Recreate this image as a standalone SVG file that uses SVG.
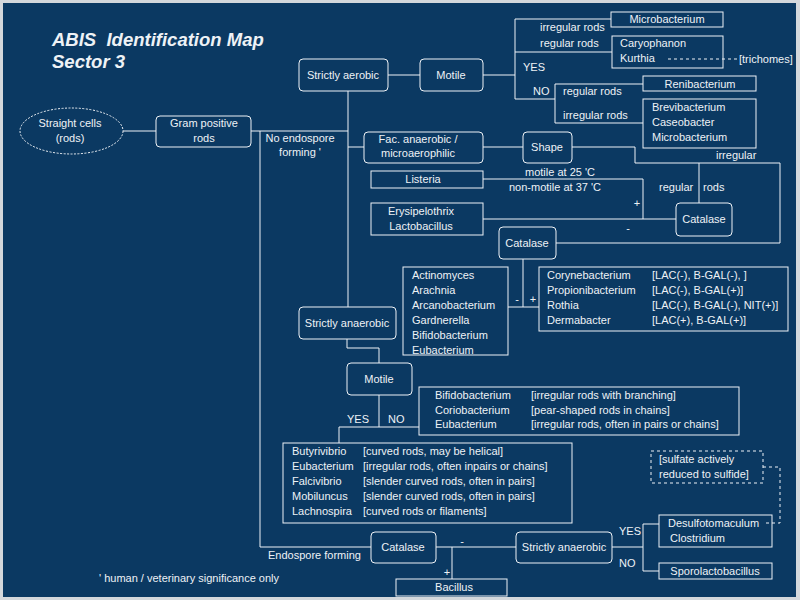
<svg xmlns="http://www.w3.org/2000/svg" width="800" height="600" viewBox="0 0 800 600">
<style>
.bg{fill:#0b3962}
.rb{fill:none;stroke:#eef2f6;stroke-width:1}
.sb{fill:none;stroke:#eef2f6;stroke-width:1}
.ln{fill:none;stroke:#eef2f6;stroke-width:1}
.ds{fill:none;stroke:#eef2f6;stroke-width:1;stroke-dasharray:3,3}
text{font-family:"Liberation Sans",Arial,sans-serif;font-size:11px;fill:#eef2f6}
.c{text-anchor:middle}
.title{font-size:18.5px;font-weight:bold;font-style:italic}
</style>
<rect x="0" y="0" width="800" height="600" fill="#d4d8dc"/>
<rect class="bg" x="3" y="3" width="793" height="594"/>

<text class="title" x="52" y="46" xml:space="preserve">ABIS  Identification Map</text>
<text class="title" x="52" y="68">Sector 3</text>

<g id="connectors">
<path class="ln" d="M123,131 H156"/>
<path class="ln" d="M251,131 H348"/>
<path class="ln" d="M260,131 V547 H371"/>
<path class="ln" d="M348,91 V307"/>
<path class="ln" d="M348,147 H364"/>
<path class="ln" d="M388,75 H420"/>
<path class="ln" d="M483,75 H515"/>
<path class="ln" d="M515,19 V99"/>
<path class="ln" d="M515,19 H611"/>
<path class="ln" d="M515,52 H612"/>
<path class="ln" d="M515,99 H555"/>
<path class="ln" d="M555,84 V123"/>
<path class="ln" d="M555,84 H643"/>
<path class="ln" d="M555,123 H643"/>
<path class="ds" d="M668,59 H737"/>
<path class="ln" d="M483,147 H523"/>
<path class="ln" d="M572,147 H635 V163 H780 V243 H556"/>
<path class="ln" d="M699,163 V203"/>
<path class="ln" d="M483,179 H643 V219"/>
<path class="ln" d="M483,219 H676"/>
<path class="ln" d="M523,259 V307"/>
<path class="ln" d="M508,307 H539"/>
<path class="ln" d="M347,339 V348 H379 V363"/>
<path class="ln" d="M379,395 V427"/>
<path class="ln" d="M339,427 H419"/>
<path class="ln" d="M339,427 V443"/>
<path class="ln" d="M436,547 H516"/>
<path class="ln" d="M452,547 V579"/>
<path class="ln" d="M612,547 H643"/>
<path class="ln" d="M643,524 V571"/>
<path class="ln" d="M643,524 H659"/>
<path class="ln" d="M643,571 H659"/>
<path class="ds" d="M763,467 H780 V523 H763"/>
</g>

<g id="labels">
<text class="c" x="300" y="142">No endospore</text>
<text class="c" x="300" y="156">forming '</text>
<text x="540" y="31">irregular rods</text>
<text x="540" y="47">regular rods</text>
<text x="523" y="71">YES</text>
<text x="533" y="95">NO</text>
<text x="563" y="95">regular rods</text>
<text x="563" y="119">irregular rods</text>
<text x="739" y="63">[trichomes]</text>
<text x="716" y="159">irregular</text>
<text x="659" y="191">regular</text>
<text x="703" y="191">rods</text>
<text class="c" x="560" y="176">motile at 25 'C</text>
<text class="c" x="555" y="191">non-motile at 37 'C</text>
<text class="c" x="637" y="207">+</text>
<text class="c" x="628" y="232">-</text>
<text class="c" x="517" y="303">-</text>
<text class="c" x="533" y="303">+</text>
<text x="347" y="423">YES</text>
<text x="388" y="423">NO</text>
<text x="268" y="559">Endospore forming</text>
<text class="c" x="462" y="545">-</text>
<text class="c" x="447" y="576">+</text>
<text x="619" y="535">YES</text>
<text x="619" y="567">NO</text>
<text x="99" y="582">' human / veterinary significance only</text>
</g>

<g id="straight-cells">
<ellipse cx="71.5" cy="131" rx="51.5" ry="23" fill="none" stroke="#eef2f6" stroke-dasharray="2,1.5"/>
<text class="c" x="70" y="127">Straight cells</text>
<text class="c" x="70" y="142">(rods)</text>
</g>
<g id="gram-positive">
<rect class="rb" x="156" y="116" width="95" height="31" rx="4"/>
<text class="c" x="204" y="127">Gram positive</text>
<text class="c" x="204" y="142">rods</text>
</g>
<g id="strictly-aerobic">
<rect class="rb" x="299" y="59" width="89" height="32" rx="4"/>
<text class="c" x="343" y="79">Strictly aerobic</text>
</g>
<g id="motile-top">
<rect class="rb" x="420" y="59" width="63" height="32" rx="4"/>
<text class="c" x="451" y="79">Motile</text>
</g>
<g id="microbacterium">
<rect class="sb" x="611" y="12" width="112" height="15"/>
<text class="c" x="667" y="23">Microbacterium</text>
</g>
<g id="caryophanon">
<rect class="sb" x="612" y="36" width="111" height="32"/>
<text x="620" y="47">Caryophanon</text>
<text x="620" y="62">Kurthia</text>
</g>
<g id="renibacterium">
<rect class="sb" x="643" y="76" width="113" height="15"/>
<text class="c" x="700" y="88">Renibacterium</text>
</g>
<g id="brevibacterium">
<rect class="sb" x="643" y="99" width="113" height="49"/>
<text x="652" y="111">Brevibacterium</text>
<text x="652" y="126">Caseobacter</text>
<text x="652" y="141">Microbacterium</text>
</g>
<g id="fac-anaerobic">
<rect class="rb" x="364" y="132" width="119" height="31" rx="4"/>
<text class="c" x="418" y="143">Fac. anaerobic /</text>
<text class="c" x="418" y="157">microaerophilic</text>
</g>
<g id="shape">
<rect class="rb" x="523" y="132" width="49" height="31" rx="4"/>
<text class="c" x="547" y="151">Shape</text>
</g>
<g id="listeria">
<rect class="sb" x="371" y="171" width="112" height="17"/>
<text class="c" x="423" y="183">Listeria</text>
</g>
<g id="erysipelothrix">
<rect class="sb" x="371" y="203" width="112" height="32"/>
<text class="c" x="421" y="215">Erysipelothrix</text>
<text class="c" x="421" y="230">Lactobacillus</text>
</g>
<g id="catalase-right">
<rect class="rb" x="676" y="203" width="56" height="33" rx="4"/>
<text class="c" x="704" y="223">Catalase</text>
</g>
<g id="catalase-mid">
<rect class="rb" x="499" y="227" width="57" height="32" rx="4"/>
<text class="c" x="527" y="247">Catalase</text>
</g>
<g id="actinomyces">
<rect class="sb" x="403" y="267" width="105" height="88"/>
<text x="412" y="279">Actinomyces</text>
<text x="412" y="294">Arachnia</text>
<text x="412" y="309">Arcanobacterium</text>
<text x="412" y="324">Gardnerella</text>
<text x="412" y="339">Bifidobacterium</text>
<text x="412" y="354">Eubacterium</text>
</g>
<g id="corynebacterium">
<rect class="sb" x="539" y="267" width="249" height="64"/>
<text x="547" y="279">Corynebacterium</text>
<text x="547" y="294">Propionibacterium</text>
<text x="547" y="309">Rothia</text>
<text x="547" y="324">Dermabacter</text>
<text x="652" y="279">[LAC(-), B-GAL(-), ]</text>
<text x="652" y="294">[LAC(-), B-GAL(+)]</text>
<text x="652" y="309">[LAC(-), B-GAL(-), NIT(+)]</text>
<text x="652" y="324">[LAC(+), B-GAL(+)]</text>
</g>
<g id="strictly-anaerobic">
<rect class="rb" x="299" y="307" width="97" height="32" rx="4"/>
<text class="c" x="347" y="327">Strictly anaerobic</text>
</g>
<g id="motile-lower">
<rect class="rb" x="347" y="363" width="65" height="32" rx="4"/>
<text class="c" x="379" y="383">Motile</text>
</g>
<g id="bifidobacterium">
<rect class="sb" x="419" y="387" width="320" height="48"/>
<text x="435" y="399">Bifidobacterium</text>
<text x="435" y="414">Coriobacterium</text>
<text x="435" y="428">Eubacterium</text>
<text x="531" y="399">[irregular rods with branching]</text>
<text x="531" y="414">[pear-shaped rods in chains]</text>
<text x="531" y="428">[irregular rods, often in pairs or chains]</text>
</g>
<g id="butyrivibrio">
<rect class="sb" x="283" y="443" width="289" height="80"/>
<text x="292" y="455">Butyrivibrio</text>
<text x="292" y="470">Eubacterium</text>
<text x="292" y="485">Falcivibrio</text>
<text x="292" y="500">Mobiluncus</text>
<text x="292" y="515">Lachnospira</text>
<text x="363" y="455">[curved rods, may be helical]</text>
<text x="363" y="470">[irregular rods, often inpairs or chains]</text>
<text x="363" y="485">[slender curved rods, often in pairs]</text>
<text x="363" y="500">[slender curved rods, often in pairs]</text>
<text x="363" y="515">[curved rods or filaments]</text>
</g>
<g id="sulfate-note">
<rect class="ds" x="651" y="451" width="112" height="32"/>
<text x="659" y="463">[sulfate actively</text>
<text x="659" y="478">reduced to sulfide]</text>
</g>
<g id="catalase-bottom">
<rect class="rb" x="371" y="532" width="65" height="31" rx="4"/>
<text class="c" x="403" y="551">Catalase</text>
</g>
<g id="bacillus">
<rect class="sb" x="396" y="579" width="111" height="17"/>
<text class="c" x="454" y="591">Bacillus</text>
</g>
<g id="strictly-anaerobic-bottom">
<rect class="rb" x="516" y="532" width="96" height="31" rx="4"/>
<text class="c" x="564" y="551">Strictly anaerobic</text>
</g>
<g id="desulfotomaculum">
<rect class="sb" x="659" y="515" width="113" height="32"/>
<text x="668" y="527">Desulfotomaculum</text>
<text x="670" y="542">Clostridium</text>
</g>
<g id="sporolactobacillus">
<rect class="sb" x="659" y="563" width="113" height="16"/>
<text class="c" x="715" y="575">Sporolactobacillus</text>
</g>
</svg>
